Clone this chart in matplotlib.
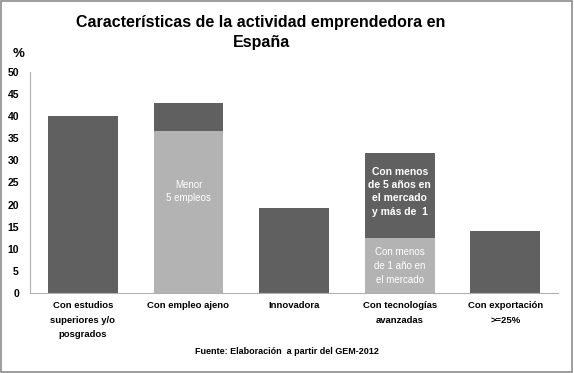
import numpy as np
import matplotlib
matplotlib.use("Agg")
import matplotlib.pyplot as plt
from matplotlib.patches import Rectangle

plt.rcParams["font.family"] = ["Liberation Sans", "DejaVu Sans"]

categories = [
    "Con estudios\nsuperiores y/o\nposgrados",
    "Con empleo ajeno",
    "Innovadora",
    "Con tecnologías\navanzadas",
    "Con exportación\n>=25%",
]
light_part = [0, 36.7, 0, 12.5, 0]
dark_part = [40.0, 6.3, 19.2, 19.2, 14.0]
y_ticks = [0, 5, 10, 15, 20, 25, 30, 35, 40, 45, 50]

dark = "#606060"
light = "#b3b3b3"

fig = plt.figure(figsize=(5.74, 3.73), dpi=100)
fig.patches.append(Rectangle((0.002, 0.003), 0.995, 0.993, transform=fig.transFigure,
                             fill=False, edgecolor="#8c8c8c", linewidth=1.2))
ax = fig.add_axes([0.0523, 0.2145, 0.92, 0.5925])

x = np.arange(len(categories))
ax.bar(x, light_part, width=0.66, color=light)
ax.bar(x, dark_part, width=0.66, bottom=light_part, color=dark)

ax.set_xlim(-0.5, 4.5)
ax.set_ylim(0, 50)
ax.set_yticks(y_ticks)
ax.set_yticklabels([str(t) for t in y_ticks], fontsize=7.5, fontweight="bold")
ax.set_xticks(x)
ax.set_xticklabels(categories, fontsize=6.8, fontweight="bold", linespacing=1.75)
ax.tick_params(axis="x", length=0, pad=6)
ax.tick_params(axis="y", length=0, pad=8)
for s in ["top", "right"]:
    ax.spines[s].set_visible(False)
for s in ["left", "bottom"]:
    ax.spines[s].set_color("#b0b0b0")

# in-bar notes
ax.text(1, 22.9, "Menor\n5 empleos", ha="center", va="center", color="white",
        fontsize=7, linespacing=1.4)
ax.text(3, 22.9, "Con menos\nde 5 años en\nel mercado\ny más de  1", ha="center",
        va="center", color="white", fontsize=7.5, fontweight="bold", linespacing=1.4)
ax.text(3, 6.1, "Con menos\nde 1 año en\nel mercado", ha="center", va="center",
        color="white", fontsize=7, linespacing=1.5)

fig.text(0.455, 0.913, "Características de la actividad emprendedora en\nEspaña",
         ha="center", va="center", fontsize=11.5, fontweight="bold", linespacing=1.35)
fig.text(0.022, 0.847, "%", fontsize=9.5, fontweight="bold")
fig.text(0.5, 0.05, "Fuente: Elaboración  a partir del GEM-2012", ha="center",
         fontsize=6.5, fontweight="bold")

fig.savefig("out.png", dpi=100)
